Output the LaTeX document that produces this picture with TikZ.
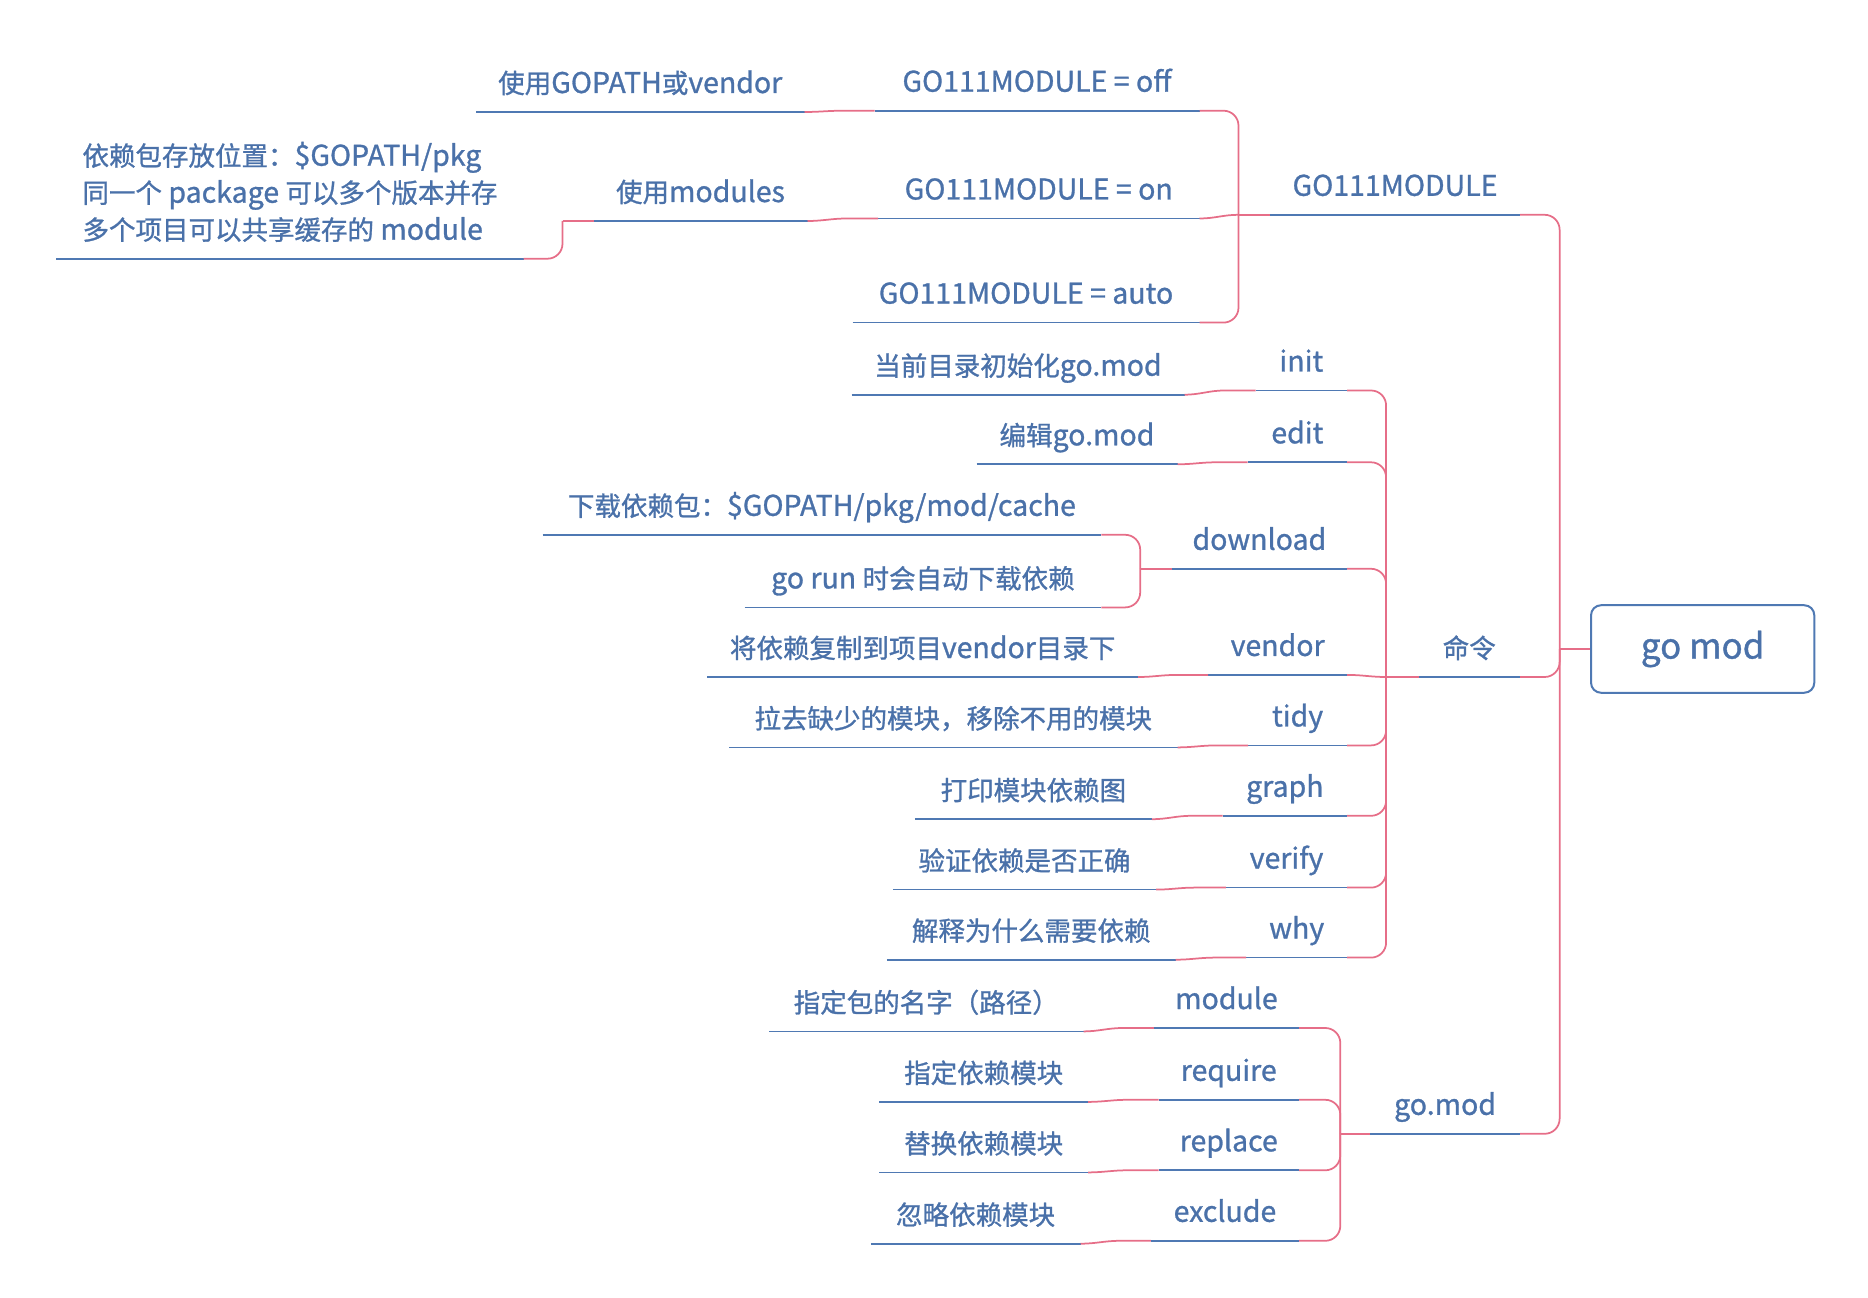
\documentclass[tikz,border=0pt]{standalone}
\usepackage{fontspec}
\setmainfont{Noto Sans CJK SC}[FakeBold=1]
\definecolor{tblue}{HTML}{4A71A9}
\definecolor{lblue}{HTML}{4F79B3}
\definecolor{lpink}{HTML}{E66E88}
% CJK characters set slightly smaller than Latin ones
\newcommand\cjksz{\fontsize{10.6pt}{14.8pt}\selectfont}
\XeTeXinterchartokenstate=1
\newXeTeXintercharclass\CJKcls
\newcount\mmcnt
\mmcnt="3000 \loop\ifnum\mmcnt<"3040 \XeTeXcharclass\mmcnt=\CJKcls \advance\mmcnt by 1 \repeat
\mmcnt="4E00 \loop\ifnum\mmcnt<"A000 \XeTeXcharclass\mmcnt=\CJKcls \advance\mmcnt by 1 \repeat
\mmcnt="FF00 \loop\ifnum\mmcnt<"FFF0 \XeTeXcharclass\mmcnt=\CJKcls \advance\mmcnt by 1 \repeat
\XeTeXinterchartoks 0 \CJKcls = {\begingroup\cjksz}
\XeTeXinterchartoks 4095 \CJKcls = {\begingroup\cjksz}
\XeTeXinterchartoks \CJKcls 0 = {\endgroup}
\XeTeXinterchartoks \CJKcls 4095 = {\endgroup}
\tikzset{
  topic/.style={inner xsep=0pt, inner ysep=0pt, text height=12pt, text depth=7.4pt,
    anchor=south, text=tblue, font=\fontsize{11.4pt}{14.8pt}\selectfont},
  mltopic/.style={inner xsep=0pt, inner ysep=0pt, anchor=south, align=left,
    text=tblue, font=\fontsize{11.4pt}{14.8pt}\selectfont},
  rootbox/.style={draw=lblue, line width=0.8pt, rounded corners=4pt, inner sep=0pt,
    text=tblue, font=\fontsize{14pt}{16pt}\selectfont},
  uline/.style={draw=lblue, line width=0.7pt},
  conn/.style={draw=lpink, line width=0.7pt},
  bus/.style={conn, rounded corners=6pt},
}
\newcommand\mmtopic[5]{\node[topic, minimum width={(#3-#2)*0.4pt}] (#1) at ({(#2+#3)/2},#4) {#5};}
\begin{document}
\begin{tikzpicture}[x=0.4pt,y=-0.4pt]
\useasboundingbox (0,0) rectangle (1868,1298);
% root
\node[rootbox, minimum width=89.3pt, minimum height=35pt] (R) at (1702.65,649) {go mod};
% level 1
\mmtopic{A}{1270.5}{1519.5}{214.8}{GO111MODULE}
\mmtopic{B}{1419}{1519.5}{677}{命令}
\mmtopic{C}{1370.6}{1519.5}{1133.8}{go.mod}
% GO111MODULE branch
\mmtopic{A1}{875}{1199}{110.7}{GO111MODULE = off}
\mmtopic{A2}{878.5}{1199}{218.5}{GO111MODULE = on}
\mmtopic{A3}{853}{1199}{322.6}{GO111MODULE = auto}
\mmtopic{A1a}{476.5}{804}{112}{使用GOPATH或vendor}
\mmtopic{A2a}{594}{807}{221}{使用modules}
\node[mltopic, minimum width=186.4pt] (A2a1) at (290,258.7)
  {依赖包存放位置：\$GOPATH/pkg\\同一个 package 可以多个版本并存\\多个项目可以共享缓存的 module\rule[-7.4pt]{0pt}{7.4pt}};
% commands branch
\mmtopic{B1}{1256}{1346.7}{390.5}{init}
\mmtopic{B2}{1248}{1346.7}{462.3}{edit}
\mmtopic{B3}{1172}{1346.7}{568.8}{download}
\mmtopic{B4}{1208.6}{1346.7}{674.9}{vendor}
\mmtopic{B5}{1248.5}{1346.7}{745.4}{tidy}
\mmtopic{B6}{1223}{1346.7}{815.8}{graph}
\mmtopic{B7}{1226.4}{1346.7}{887.6}{verify}
\mmtopic{B8}{1246.7}{1346.7}{957.6}{why}
\mmtopic{B1a}{852}{1184}{394.7}{当前目录初始化go.mod}
\mmtopic{B2a}{977}{1177}{464.3}{编辑go.mod}
\mmtopic{B3a}{543}{1100.8}{534.8}{下载依赖包：\$GOPATH/pkg/mod/cache}
\mmtopic{B3b}{745}{1100.8}{607.4}{go run 时会自动下载依赖}
\mmtopic{B4a}{707.6}{1137.7}{677}{将依赖复制到项目vendor目录下}
\mmtopic{B5a}{729.6}{1177}{747.4}{拉去缺少的模块，移除不用的模块}
\mmtopic{B6a}{915.4}{1151.4}{819.2}{打印模块依赖图}
\mmtopic{B7a}{893.4}{1155.6}{889.6}{验证依赖是否正确}
\mmtopic{B8a}{887.4}{1175}{959.7}{解释为什么需要依赖}
% go.mod branch
\mmtopic{C1}{1154.4}{1298.5}{1028}{module}
\mmtopic{C2}{1159}{1298.5}{1099.8}{require}
\mmtopic{C3}{1159}{1298.5}{1170.3}{replace}
\mmtopic{C4}{1151.4}{1298.5}{1240.8}{exclude}
\mmtopic{C1a}{769.5}{1083}{1031.4}{指定包的名字（路径）}
\mmtopic{C2a}{879.7}{1087.7}{1101.9}{指定依赖模块}
\mmtopic{C3a}{879.7}{1087.7}{1172.4}{替换依赖模块}
\mmtopic{C4a}{871.3}{1080}{1243.7}{忽略依赖模块}
% underlines
\foreach \n in {A,B,C,A1,A2,A3,A1a,A2a,A2a1,B1,B2,B3,B4,B5,B6,B7,B8,
  B1a,B2a,B3a,B3b,B4a,B5a,B6a,B7a,B8a,C1,C2,C3,C4,C1a,C2a,C3a,C4a}
  \draw[uline] (\n.south west) -- (\n.south east);
% connectors: root
\draw[conn] (R.west) -- ++(-30.4,0) coordinate (Rb);
\foreach \c in {A,B,C} \draw[bus] (Rb) |- (\c.south east);
% GO111MODULE
\draw[conn] (A.south west) -- ++(-31.5,0) coordinate (Ab);
\draw[bus] (Ab) |- (A1.south east);
\draw[bus] (Ab) |- (A3.south east);
\draw[conn] (Ab) to[out=180,in=0] (A2.south east);
\draw[conn] (A1.south west) -- ++(-31,0) coordinate (A1b) to[out=180,in=0] (A1a.south east);
\draw[conn] (A2.south west) -- ++(-31,0) coordinate (A2b) to[out=180,in=0] (A2a.south east);
\draw[conn] (A2a.south west) -- ++(-31,0) coordinate (A2ab);
\draw[bus] (A2ab) |- (A2a1.south east);
% commands
\draw[conn] (B.south west) -- ++(-32.4,0) coordinate (Bb);
\foreach \c in {B1,B2,B3,B5,B6,B7,B8} \draw[bus] (Bb) |- (\c.south east);
\draw[conn] (Bb) to[out=180,in=0] (B4.south east);
\draw[conn] (B1.south west) -- ++(-31,0) coordinate (B1b) to[out=180,in=0] (B1a.south east);
\draw[conn] (B2.south west) -- ++(-31,0) coordinate (B2b) to[out=180,in=0] (B2a.south east);
\draw[conn] (B3.south west) -- ++(-31.3,0) coordinate (B3bus);
\draw[bus] (B3bus) |- (B3a.south east);
\draw[bus] (B3bus) |- (B3b.south east);
\draw[conn] (B4.south west) -- ++(-31,0) coordinate (B4b) to[out=180,in=0] (B4a.south east);
\draw[conn] (B5.south west) -- ++(-31,0) coordinate (B5b) to[out=180,in=0] (B5a.south east);
\draw[conn] (B6.south west) -- ++(-31,0) coordinate (B6b) to[out=180,in=0] (B6a.south east);
\draw[conn] (B7.south west) -- ++(-31,0) coordinate (B7b) to[out=180,in=0] (B7a.south east);
\draw[conn] (B8.south west) -- ++(-31,0) coordinate (B8b) to[out=180,in=0] (B8a.south east);
% go.mod
\draw[conn] (C.south west) -- ++(-29.8,0) coordinate (Cb);
\foreach \c in {C1,C2,C3,C4} \draw[bus] (Cb) |- (\c.south east);
\draw[conn] (C1.south west) -- ++(-31,0) coordinate (C1b) to[out=180,in=0] (C1a.south east);
\draw[conn] (C2.south west) -- ++(-31,0) coordinate (C2b) to[out=180,in=0] (C2a.south east);
\draw[conn] (C3.south west) -- ++(-31,0) coordinate (C3b) to[out=180,in=0] (C3a.south east);
\draw[conn] (C4.south west) -- ++(-31,0) coordinate (C4b) to[out=180,in=0] (C4a.south east);
\end{tikzpicture}
\end{document}
